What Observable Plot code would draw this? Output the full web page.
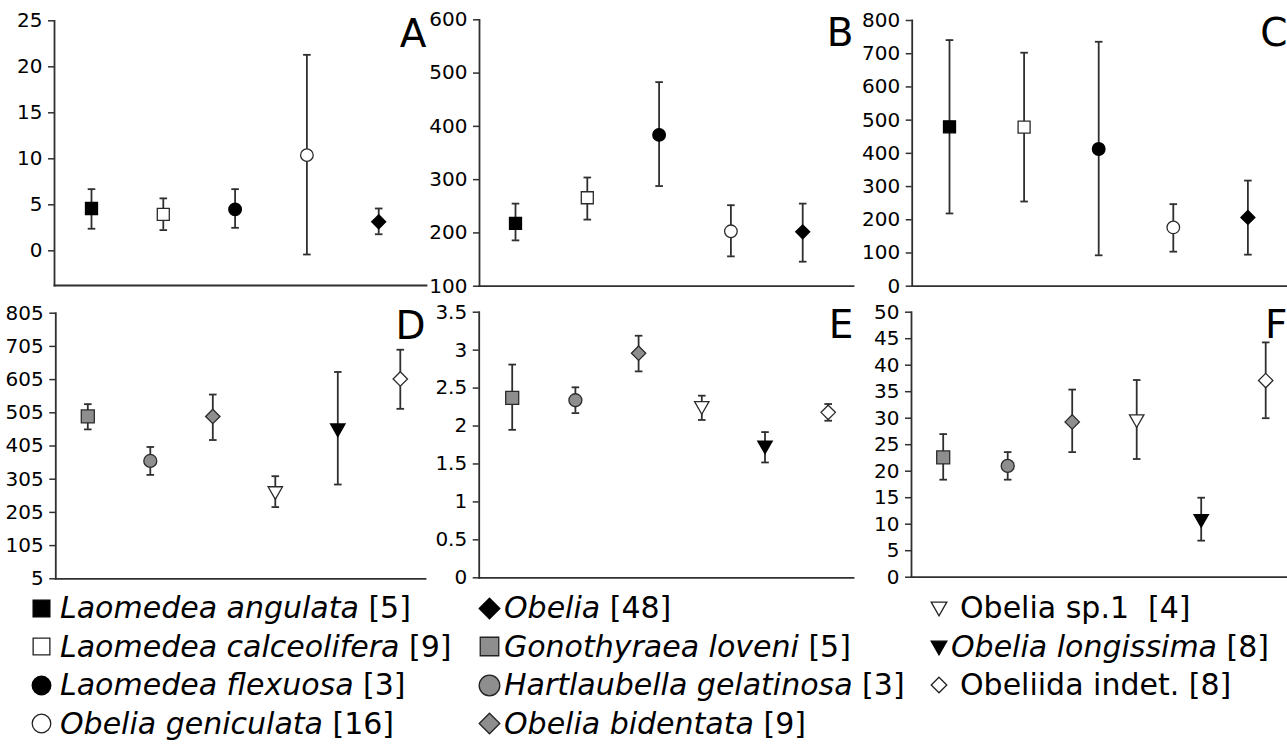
<!DOCTYPE html>
<html>
<head>
<meta charset="utf-8">
<script src="https://cdn.jsdelivr.net/npm/d3@7"></script>
<script src="https://cdn.jsdelivr.net/npm/@observablehq/plot@0.6"></script>
<style>
  html, body { margin: 0; padding: 0; background: #fff; }
  #root { position: relative; width: 1287px; height: 751px; overflow: hidden; font-family: "DejaVu Sans", sans-serif; }
  .panel { position: absolute; }
  .leg { position: absolute; display: flex; align-items: center; font-size: 30px; color: #000; white-space: pre; line-height: 34px; }
  .leg svg { flex: none; }
  .leg i { font-style: italic; }
</style>
</head>
<body>
<div id="root"></div>
<script>
// ---------- data ----------
const speciesTop = ["Laomedea angulata", "Laomedea calceolifera", "Laomedea flexuosa", "Obelia geniculata", "Obelia"];
const speciesBottom = ["Gonothyraea loveni", "Hartlaubella gelatinosa", "Obelia bidentata", "Obelia sp.1", "Obelia longissima", "Obeliida indet."];

const aMean = [4.6, 3.95, 4.5, 10.4, 3.15];
const aLow  = [2.4, 2.25, 2.5, -0.4, 1.8];
const aHigh = [6.7, 5.7, 6.7, 21.3, 4.6];

const bMean = [218, 266, 384, 203, 202];
const bLow  = [186, 225, 288, 156, 146];
const bHigh = [255, 304, 483, 252, 255];

const cMean = [480, 479, 413, 177, 207];
const cLow  = [219, 255, 93, 104, 95];
const cHigh = [741, 703, 736, 247, 318];

const dMean = [494, 360, 494, 266, 455, 607];
const dLow  = [455, 318, 423, 221, 289, 517];
const dHigh = [531, 402, 560, 314, 628, 695];

const eMean = [2.37, 2.34, 2.96, 2.25, 1.73, 2.18];
const eLow  = [1.95, 2.17, 2.72, 2.08, 1.52, 2.07];
const eHigh = [2.81, 2.51, 3.19, 2.40, 1.92, 2.29];

const fMean = [22.6, 21.0, 29.3, 29.6, 10.8, 37.1];
const fLow  = [18.4, 18.4, 23.6, 22.3, 6.9, 30.0];
const fHigh = [27.0, 23.6, 35.4, 37.2, 15.0, 44.3];

const ticksA = [0, 5, 10, 15, 20, 25];
const ticksB = [100, 200, 300, 400, 500, 600];
const ticksC = [0, 100, 200, 300, 400, 500, 600, 700, 800];
const ticksD = [5, 105, 205, 305, 405, 505, 605, 705, 805];
const ticksE = [0, 0.5, 1, 1.5, 2, 2.5, 3, 3.5];
const ticksF = [0, 5, 10, 15, 20, 25, 30, 35, 40, 45, 50];

const legendCol1 = [["Laomedea angulata", " [5]"], ["Laomedea calceolifera", " [9]"], ["Laomedea flexuosa", " [3]"], ["Obelia geniculata", " [16]"]];
const legendCol2 = [["Obelia", " [48]"], ["Gonothyraea loveni", " [5]"], ["Hartlaubella gelatinosa", " [3]"], ["Obelia bidentata", " [9]"]];
const legendCol3 = [["", "Obelia sp.1  [4]", "Obelia sp.1"], ["Obelia longissima", " [8]"], ["", "Obeliida indet. [8]", "Obeliida indet."]];

// ---------- symbols & styles ----------
const sym = (pts) => ({draw(ctx, size) {
  const r = Math.sqrt(size / Math.PI);
  pts.forEach(([x, y], k) => k ? ctx.lineTo(x * r, y * r) : ctx.moveTo(x * r, y * r));
  ctx.closePath();
}});
const squareSym = sym([[-1, -1], [1, -1], [1, 1], [-1, 1]]);
const diamondSym = sym([[0, -1], [1, 0], [0, 1], [-1, 0]]);
const triDownSym = sym([[-1, -0.75], [1, -0.75], [0, 1]]);
const capSym = {draw(ctx, size) { const r = Math.sqrt(size / Math.PI); ctx.moveTo(-r, 0); ctx.lineTo(r, 0); }};

const GRAY = "#8e8e8e", DARK = "#2b2b2b", LINE = "#2f2f2f";
const styles = {
  "Laomedea angulata":      {symbol: squareSym, r: 6, fill: "#000", stroke: "#000"},
  "Laomedea calceolifera":  {symbol: squareSym, r: 6, fill: "#fff", stroke: DARK},
  "Laomedea flexuosa":      {symbol: "circle", r: 6.3, fill: "#000", stroke: "#000"},
  "Obelia geniculata":      {symbol: "circle", r: 6.3, fill: "#fff", stroke: DARK},
  "Obelia":                 {symbol: diamondSym, r: 7, fill: "#000", stroke: "#000"},
  "Gonothyraea loveni":     {symbol: squareSym, r: 6.5, fill: GRAY, stroke: DARK},
  "Hartlaubella gelatinosa":{symbol: "circle", r: 6.5, fill: GRAY, stroke: DARK},
  "Obelia bidentata":       {symbol: diamondSym, r: 7.2, fill: GRAY, stroke: DARK},
  "Obelia sp.1":            {symbol: triDownSym, r: 7.2, fill: "#fff", stroke: DARK},
  "Obelia longissima":      {symbol: triDownSym, r: 7.2, fill: "#000", stroke: "#000"},
  "Obeliida indet.":        {symbol: diamondSym, r: 7.2, fill: "#fff", stroke: DARK}
};

// ---------- layout ----------
const panels = [
  {letter: "A", species: speciesTop, mean: aMean, low: aLow, high: aHigh, ticks: ticksA, yDomain: [-3.77, 25],
   left: 0, top: 0, width: 430, height: 292, axisLeft: 54, axisRight: 426, yTop: 20.3, yBottom: 285, x0: 91, dx: 71.8},
  {letter: "B", species: speciesTop, mean: bMean, low: bLow, high: bHigh, ticks: ticksB, yDomain: [100, 600],
   left: 430, top: 0, width: 430, height: 292, axisLeft: 479, axisRight: 853, yTop: 19.3, yBottom: 285.7, x0: 515, dx: 71.8},
  {letter: "C", species: speciesTop, mean: cMean, low: cLow, high: cHigh, ticks: ticksC, yDomain: [0, 800],
   left: 860, top: 0, width: 427, height: 292, axisLeft: 911.7, axisRight: 1287, yTop: 20, yBottom: 285.7, x0: 949, dx: 74.6},
  {letter: "D", species: speciesBottom, mean: dMean, low: dLow, high: dHigh, ticks: ticksD, yDomain: [5, 805],
   left: 0, top: 292, width: 430, height: 298, axisLeft: 55.3, axisRight: 425, yTop: 312.7, yBottom: 578.3, x0: 87.3, dx: 62.5},
  {letter: "E", species: speciesBottom, mean: eMean, low: eLow, high: eHigh, ticks: ticksE, yDomain: [0, 3.5],
   left: 430, top: 292, width: 430, height: 298, axisLeft: 478.7, axisRight: 853, yTop: 311.7, yBottom: 577.3, x0: 511.7, dx: 63.2},
  {letter: "F", species: speciesBottom, mean: fMean, low: fLow, high: fHigh, ticks: ticksF, yDomain: [0, 50],
   left: 860, top: 292, width: 427, height: 298, axisLeft: 911, axisRight: 1287, yTop: 311.7, yBottom: 576.7, x0: 942.7, dx: 64.5}
];

const root = document.getElementById("root");

for (const p of panels) {
  const rows = p.species.map((s, i) => ({i, s, mean: p.mean[i], low: p.low[i], high: p.high[i]}));
  const marginLeft = p.axisLeft - p.left;
  const marginRight = p.left + p.width - p.axisRight;
  const marginTop = p.yTop - p.top;
  const marginBottom = p.top + p.height - p.yBottom;
  const xDomain = [(p.axisLeft - p.x0) / p.dx, (p.axisRight - p.x0) / p.dx];
  const dotMarks = rows.map(r => {
    const st = styles[r.s];
    return Plot.dot([r], {x: "i", y: "mean", symbol: st.symbol, r: st.r, fill: st.fill, stroke: st.stroke, strokeWidth: 1.3});
  });
  const chart = Plot.plot({
    width: p.width, height: p.height,
    marginLeft, marginRight, marginTop, marginBottom,
    x: {domain: xDomain, axis: null},
    y: {domain: p.yDomain, axis: null},
    style: {background: "transparent", overflow: "visible", fontFamily: "DejaVu Sans, sans-serif", fontSize: "20px"},
    marks: [
      Plot.axisY({ticks: p.ticks, tickFormat: d => String(d), tickSize: 6, tickPadding: 6, fontSize: 20, color: "#000", stroke: LINE, strokeWidth: 1.5}),
      Plot.frame({anchor: "left", stroke: LINE, strokeWidth: 1.8}),
      Plot.frame({anchor: "bottom", stroke: LINE, strokeWidth: 1.8}),
      Plot.ruleX(rows, {x: "i", y1: "low", y2: "high", stroke: LINE, strokeWidth: 1.8}),
      Plot.dot(rows, {x: "i", y: "low", symbol: capSym, r: 3.8, stroke: LINE, strokeWidth: 1.8}),
      Plot.dot(rows, {x: "i", y: "high", symbol: capSym, r: 3.8, stroke: LINE, strokeWidth: 1.8}),
      ...dotMarks,
      Plot.text([p.letter], {text: d => d, frameAnchor: "top-right", textAnchor: "end", lineAnchor: "top", fontSize: 39, fill: "#000", dy: -2})
    ]
  });
  chart.classList.add("panel");
  chart.style.left = p.left + "px";
  chart.style.top = p.top + "px";
  chart.querySelectorAll("g[aria-label='y-axis tick label']").forEach(g => g.setAttribute("font-size", 20));
  root.appendChild(chart);
}

// ---------- legend ----------
function markerSvg(species, size) {
  const st = styles[species];
  const ns = "http://www.w3.org/2000/svg";
  const svg = document.createElementNS(ns, "svg");
  svg.setAttribute("width", size); svg.setAttribute("height", size);
  svg.setAttribute("viewBox", `${-size/2} ${-size/2} ${size} ${size}`);
  const path = document.createElementNS(ns, "path");
  const rr = size / 2 - 1.2;
  let d;
  if (st.symbol === "circle") d = d3.symbol(d3.symbolCircle, Math.PI * rr * rr)();
  else {
    const ctx = d3.path();
    const k = st.symbol === squareSym ? 0.9 : 1;
    st.symbol.draw(ctx, Math.PI * (rr * k) * (rr * k));
    d = ctx.toString();
  }
  path.setAttribute("d", d);
  path.setAttribute("fill", st.fill);
  path.setAttribute("stroke", st.stroke === "#000" ? "#000" : "#222");
  path.setAttribute("stroke-width", 1.3);
  svg.appendChild(path);
  return svg;
}

function legendItem(species, italicPart, plainPart, left, cy, mSize, gap) {
  const div = document.createElement("div");
  div.className = "leg";
  div.style.left = left + "px";
  div.style.top = (cy - 17) + "px";
  div.appendChild(markerSvg(species, mSize));
  const span = document.createElement("span");
  span.style.marginLeft = gap + "px";
  if (italicPart) { const it = document.createElement("i"); it.textContent = italicPart; span.appendChild(it); }
  span.appendChild(document.createTextNode(plainPart));
  div.appendChild(span);
  root.appendChild(div);
}

const rowY = [608, 646.5, 685, 723.5];
legendCol1.forEach(([it, pl], k) => legendItem(it, it, pl, 31, rowY[k], 21, 8));
legendCol2.forEach(([it, pl], k) => legendItem(it, it, pl, 478, rowY[k], 23, 3));
legendCol3.forEach((row, k) => {
  if (row.length === 3) legendItem(row[2], "", row[1], 930, rowY[k], 18, 12);
  else legendItem(row[0], row[0], row[1], 930, rowY[k], 18, 3);
});
</script>
</body>
</html>
